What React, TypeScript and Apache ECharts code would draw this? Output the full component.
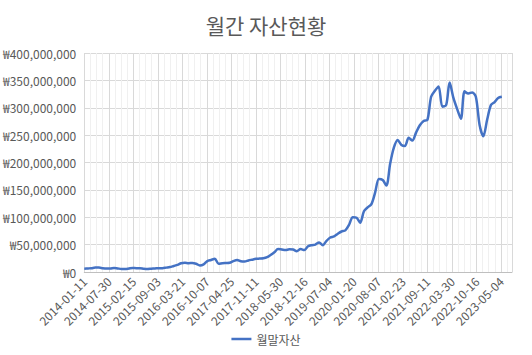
import React, { useEffect, useRef } from "react";
import * as echarts from "echarts";

const chartTitle = "월간 자산현황";
const seriesName = "월말자산";
const startDate = "2014-01-11";
// monthly values in millions of won, one per month from 2014-01-11
const monthlyValuesM = [
  6, 6.5, 7, 8, 8, 7, 6.5, 6.5, 7.5, 6.5, 5.5, 5.5, 6.5, 7.5, 7, 7, 6, 5.5, 6, 6.5,
  7, 7, 8, 9, 11, 13, 16, 17, 16, 16.5, 15, 12, 14, 20, 22, 24, 15, 16, 16.5, 17,
  20, 22, 19.5, 19, 21, 22.5, 24, 24.5, 25, 27, 31, 36, 42, 41, 40, 41.5, 41, 38, 42, 40,
  47, 49, 50, 54, 49, 57, 63, 65, 70, 74, 76, 86, 100, 99, 90, 111, 118, 124, 145, 170,
  168, 158, 198, 227, 241, 232, 230, 245, 240, 255, 268, 276, 278, 320, 331, 339, 302, 305, 346, 318,
  298, 280, 330, 326, 328, 320, 268, 248, 278, 305, 310, 318, 320,
];
const yTicks = [0, 50000000, 100000000, 150000000, 200000000, 250000000, 300000000, 350000000, 400000000];
const xTickStepDays = 200;
const xMaxDays = 3490;

const DAY = 86400000;
const startMs = Date.parse(startDate + "T00:00:00Z");
const sd = new Date(startMs);

function fmtDate(days: number) {
  return new Date(startMs + Math.round(days) * DAY).toISOString().slice(0, 10);
}
function fmtWon(v: number) {
  return "₩" + Math.round(v).toString().replace(/\B(?=(\d{3})+(?!\d))/g, ",");
}

const seriesData = monthlyValuesM.map((v, i) => {
  const ms = Date.UTC(sd.getUTCFullYear(), sd.getUTCMonth() + i, sd.getUTCDate());
  return [(ms - startMs) / DAY, v * 1000000];
});

export default function App() {
  const ref = useRef<HTMLDivElement>(null);
  useEffect(() => {
    if (!ref.current) return;
    const chart = echarts.init(ref.current, undefined, { renderer: "svg" });
    const font = "'Noto Sans CJK KR', 'Noto Sans', sans-serif";
    chart.setOption({
      animation: false,
      backgroundColor: "#ffffff",
      title: {
        text: chartTitle,
        left: "center",
        top: 9,
        textStyle: { fontFamily: font, fontSize: 21, fontWeight: "normal", color: "#595959" },
      },
      legend: {
        bottom: 5,
        left: "center",
        icon: "rect",
        itemWidth: 20,
        itemHeight: 2.5,
        itemGap: 4,
        textStyle: { fontFamily: font, fontSize: 12, color: "#595959" },
        data: [seriesName],
      },
      grid: { left: 78, right: 20, top: 53, bottom: 83, containLabel: false },
      xAxis: {
        type: "value",
        min: 0,
        max: xMaxDays,
        interval: xTickStepDays,
        axisLine: { show: true, lineStyle: { color: "#bfbfbf", width: 1 } },
        axisTick: { show: false },
        axisLabel: {
          rotate: 45,
          formatter: (v: number) => fmtDate(v),
          showMaxLabel: false,
          fontFamily: font,
          fontSize: 12,
          color: "#595959",
          margin: 7,
        },
        splitLine: { show: true, lineStyle: { color: "#d9d9d9", width: 1 } },
        minorTick: { show: false, splitNumber: 4 },
        minorSplitLine: { show: true, lineStyle: { color: "#f0f0f0", width: 1 } },
      },
      yAxis: {
        type: "value",
        min: yTicks[0],
        max: yTicks[yTicks.length - 1],
        interval: yTicks[1] - yTicks[0],
        axisLine: { show: false },
        axisTick: { show: false },
        axisLabel: {
          formatter: (v: number) => fmtWon(v),
          fontFamily: font,
          fontSize: 12,
          color: "#595959",
          margin: 8,
        },
        splitLine: { show: true, lineStyle: { color: "#d9d9d9", width: 1 } },
      },
      series: [
        {
          name: seriesName,
          type: "line",
          data: seriesData,
          smooth: 0.3,
          symbol: "none",
          lineStyle: { color: "#4472C4", width: 2.5 },
          itemStyle: { color: "#4472C4" },
        },
      ],
    });
    return () => chart.dispose();
  }, []);
  return <div ref={ref} style={{ position: "fixed", left: 0, top: 0, width: 532, height: 355 }} />;
}
